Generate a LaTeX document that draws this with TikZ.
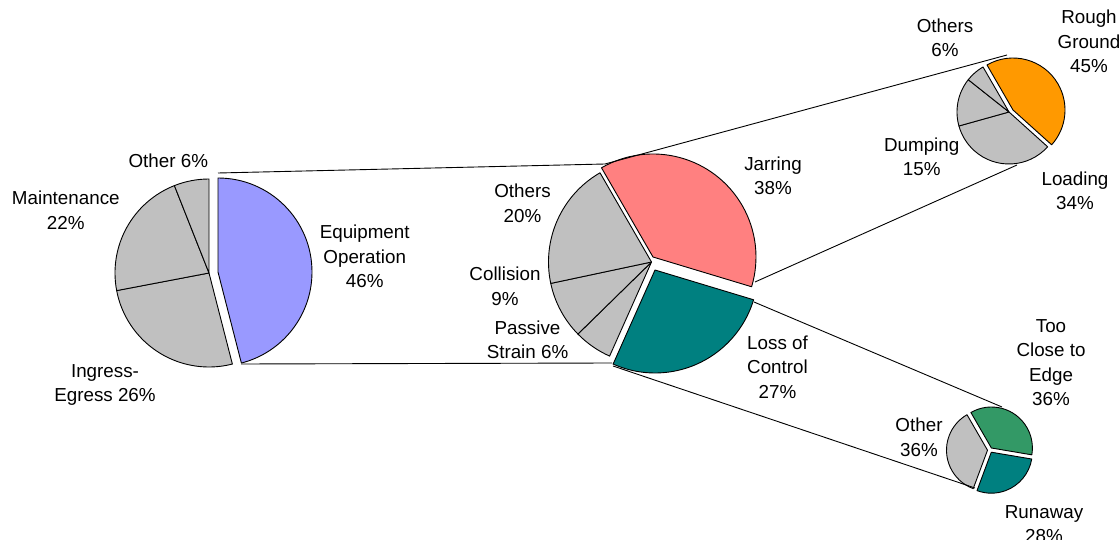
\documentclass[tikz,border=0pt]{standalone}
\usepackage{fontspec}
\setmainfont{Liberation Sans}
\usetikzlibrary{calc}
\definecolor{opblue}{HTML}{9999FF}
\definecolor{jarred}{HTML}{FF8080}
\definecolor{lossteal}{HTML}{008080}
\definecolor{roughorange}{HTML}{FF9900}
\definecolor{edgegreen}{HTML}{339966}
\definecolor{restgrey}{HTML}{C0C0C0}

\begin{document}
\begin{tikzpicture}[x=1pt,y=1pt,line width=0.9pt,line join=round]
    \tikzset{Lbl/.style={align=center,inner sep=0pt,
        font=\fontsize{18.8}{24.5}\selectfont},
      Slice/.style={draw=black,fill=#1}}
    \useasboundingbox (0,0) rectangle (1120,539);

    % activity pie
    \filldraw[Slice=opblue] (218,267) -- ++(90:94) arc[start angle=90,end angle=-75.6,radius=94] -- cycle;
    \foreach \a/\b in {-75.6/-169.2,-169.2/-248.4,-248.4/-270}
      \filldraw[Slice=restgrey] (209,266) -- ++(\a:94) arc[start angle=\a,end angle=\b,radius=94] -- cycle;

    % equipment operation pie
    \filldraw[Slice=jarred] (653,282) -- ++(120:103) arc[start angle=120,end angle=-16.8,radius=103] -- cycle;
    \filldraw[Slice=lossteal] (655,269) -- ++(-16.8:103) arc[start angle=-16.8,end angle=-114,radius=103] -- cycle;
    \foreach \a/\b in {-114/-135.6,-135.6/-168,-168/-240}
      \filldraw[Slice=restgrey] (651.5,277) -- ++(\a:103) arc[start angle=\a,end angle=\b,radius=103] -- cycle;

    % jarring pie
    \filldraw[Slice=roughorange] (1013,429) -- ++(120:52) arc[start angle=120,end angle=-42,radius=52] -- cycle;
    \foreach \a/\b in {-42/-164.4,-164.4/-218.4,-218.4/-240}
      \filldraw[Slice=restgrey] (1009,427) -- ++(\a:52) arc[start angle=\a,end angle=\b,radius=52] -- cycle;

    % loss of control pie
    \filldraw[Slice=edgegreen] (991.4,91) -- ++(120:41) arc[start angle=120,end angle=-9.6,radius=41] -- cycle;
    \filldraw[Slice=lossteal] (991.3,86.8) -- ++(-9.6:41) arc[start angle=-9.6,end angle=-110.4,radius=41] -- cycle;
    \filldraw[Slice=restgrey] (987.5,88.8) -- ++(-110.4:41) arc[start angle=-110.4,end angle=-240,radius=41] -- cycle;

    % connector ends
    \coordinate (opTop) at (218,366);
    \coordinate (opBot) at (241,175);
    \coordinate (eqTop) at (605,375);
    \coordinate (eqBot) at (612,176);
    \coordinate (jarTop) at (1007,484);
    \coordinate (jarOut) at (755,257);
    \coordinate (jarBot) at (1017,374);
    \coordinate (lossOut) at (754,237);
    \coordinate (lossTop) at (1002,132);
    \coordinate (lossIn) at (613,173);
    \coordinate (lossBot) at (975,51);

    \draw (opTop) -- (eqTop);
    \draw (opBot) -- (eqBot);
    \draw (eqTop) -- (jarTop);
    \draw (jarOut) -- (jarBot);
    \draw (lossOut) -- (lossTop);
    \draw (lossIn) -- (lossBot);

    \node[Lbl] (other) at (168.3,378.2) {Other 6\%};
    \node[Lbl] (maint) at (65.8,328.7) {Maintenance\\22\%};
    \node[Lbl] (ingress) at (105,154) {Ingress-\\Egress 26\%};
    \node[Lbl] (equip) at (364.7,282.3) {Equipment\\Operation\\46\%};
    \node[Lbl] (others) at (522.5,335.7) {Others\\20\%};
    \node[Lbl] (collision) at (505,252.7) {Collision\\9\%};
    \node[Lbl] (passive) at (527.5,199.3) {Passive\\Strain 6\%};
    \node[Lbl] (jarring) at (773,363) {Jarring\\38\%};
    \node[Lbl] (loss) at (777.5,172) {Loss of\\Control\\27\%};
    \node[Lbl] (jarothers) at (945,501) {Others\\6\%};
    \node[Lbl] (rough) at (1089,497.3) {Rough\\Ground\\45\%};
    \node[Lbl] (dumping) at (921.7,382) {Dumping\\15\%};
    \node[Lbl] (loading) at (1075,348) {Loading\\34\%};
    \node[Lbl] (tooclose) at (1051,176.5) {Too\\Close to\\Edge\\36\%};
    \node[Lbl] (lossother) at (919,101.7) {Other\\36\%};
    \node[Lbl] (runaway) at (1044,15) {Runaway\\28\%};
\end{tikzpicture}
\end{document}
